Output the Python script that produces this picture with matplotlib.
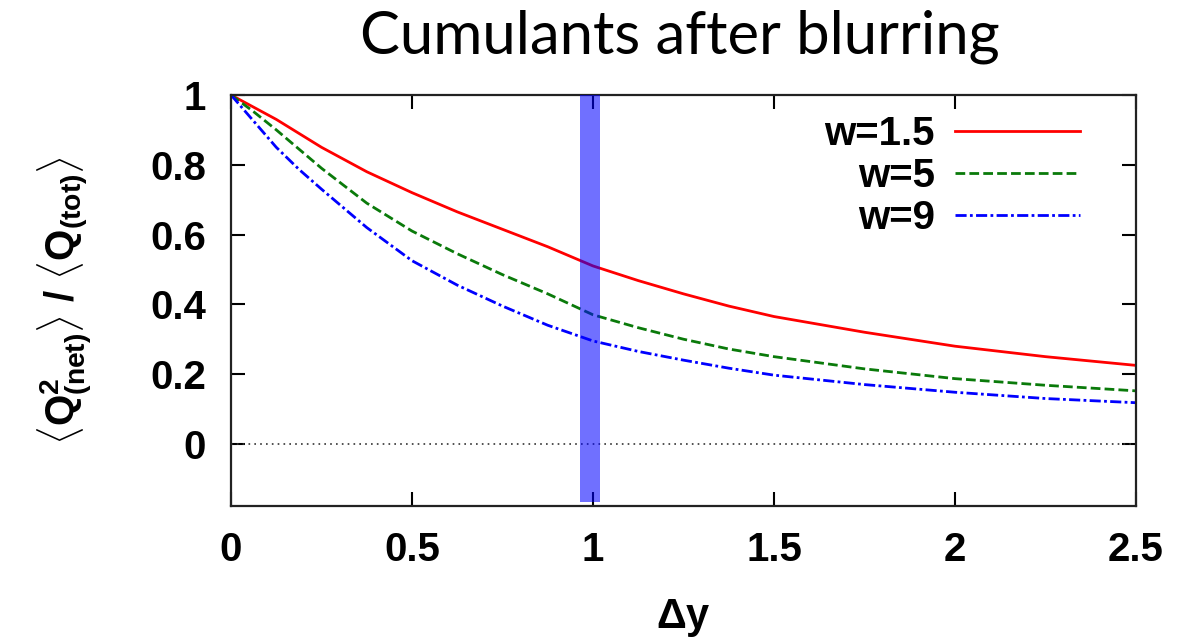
import numpy as np
import matplotlib
matplotlib.use("Agg")
import matplotlib.pyplot as plt

# ==========================
# DATA
# ==========================

dy = [0.0, 0.0625, 0.125, 0.1875, 0.25, 0.375, 0.5, 0.625, 0.75, 0.875, 1.0,
      1.125, 1.25, 1.375, 1.5, 1.75, 2.0, 2.25, 2.5]

w15 = [1.0, 0.965, 0.93, 0.89, 0.85, 0.78, 0.72, 0.665, 0.615, 0.565, 0.51,
       0.468, 0.43, 0.395, 0.365, 0.32, 0.28, 0.25, 0.225]
w5 = [1.0, 0.952, 0.90, 0.845, 0.79, 0.69, 0.61, 0.545, 0.485, 0.43, 0.37,
      0.333, 0.30, 0.272, 0.25, 0.215, 0.187, 0.168, 0.152]
w9 = [1.0, 0.925, 0.85, 0.787, 0.73, 0.62, 0.525, 0.455, 0.395, 0.34, 0.295,
      0.265, 0.24, 0.217, 0.197, 0.17, 0.148, 0.13, 0.118]

labels = ["w=1.5", "w=5", "w=9"]
x_ticks = [0, 0.5, 1, 1.5, 2, 2.5]
x_tick_labels = ["0", "0.5", "1", "1.5", "2", "2.5"]
y_ticks = [0, 0.2, 0.4, 0.6, 0.8, 1]
y_tick_labels = ["0", "0.2", "0.4", "0.6", "0.8", "1"]
band = [0.965, 1.02]

# ==========================
# STYLE
# ==========================

plt.rcParams["font.family"] = ["Liberation Sans", "DejaVu Sans"]
plt.rcParams["font.weight"] = "bold"
plt.rcParams["mathtext.fontset"] = "custom"
plt.rcParams["mathtext.rm"] = "Liberation Sans:bold"
plt.rcParams["mathtext.bf"] = "Liberation Sans:bold"
plt.rcParams["mathtext.it"] = "Liberation Sans:bold"

fig = plt.figure(figsize=(11.8, 6.44), dpi=100)
ax = fig.add_axes([0.1958, 0.2143, 0.7669, 0.6382])

ax.plot(dy, w15, color="#ff0000", lw=2.0, ls="-", label=labels[0])
ax.plot(dy, w5, color="#0a7a0a", lw=2.0, ls=(0, (3.5, 1.5)), label=labels[1])
ax.plot(dy, w9, color="#0000ff", lw=2.0, ls=(0, (4, 1.2, 1, 1.2)), label=labels[2])

ax.axhline(0, color="#333333", lw=1.2, ls=(0, (1, 2.5)))

# highlighted band
ax.axvspan(band[0], band[1], ymin=0.01, ymax=1.0, color="#0000ff",
           alpha=0.56, lw=0, zorder=5)

ax.set_xlim(0, 2.5)
ax.set_ylim(-0.178, 1.0)

ax.set_xticks(x_ticks)
ax.set_xticklabels(x_tick_labels)
ax.set_yticks(y_ticks)
ax.set_yticklabels(y_tick_labels)
ax.tick_params(direction="in", length=10, width=1.5, top=True, right=True,
               labelsize=29, pad=18)

for sp in ax.spines.values():
    sp.set_linewidth(1.6)
    sp.set_color("#222222")

ax.set_xlabel(r"$\Delta$y", fontsize=30, fontweight="bold", labelpad=20)
ax.set_ylabel(r"$\langle$Q$^{2}_{(net)}$$\rangle$ / $\langle$Q$_{(tot)}$$\rangle$",
              fontsize=29, fontweight="bold", labelpad=40)

leg = ax.legend(loc="upper right", frameon=False, markerfirst=False,
                fontsize=29, handlelength=3.1, handletextpad=0.5,
                labelspacing=0.1, borderaxespad=0.1,
                bbox_to_anchor=(0.96, 1.0))
for t in leg.get_texts():
    t.set_fontweight("bold")
    t.set_horizontalalignment("right")

fig.text(0.576, 0.943, "Cumulants after blurring", ha="center", va="center",
         fontsize=43, fontweight="normal", family=["Lato", "DejaVu Sans"])

fig.savefig("out.png", dpi=100)
